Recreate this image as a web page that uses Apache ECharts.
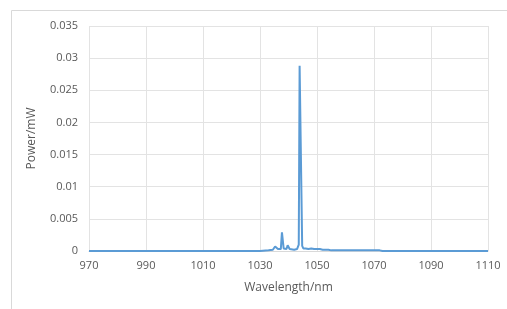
<!DOCTYPE html>
<html>
<head>
<meta charset="utf-8">
<script src="https://cdn.jsdelivr.net/npm/echarts@6/dist/echarts.min.js"></script>
<style>
html,body{margin:0;padding:0;background:#fff;}
#chart{width:507px;height:309px;}
</style>
</head>
<body>
<div id="chart"></div>
<script>
// spectrum
var wavelength = [970, 1000, 1030, 1033, 1034.5, 1035.3, 1035.8, 1036.3, 1036.8, 1037.3, 1037.7, 1038.0, 1038.3, 1038.7,
  1039.3, 1039.7, 1040.0, 1040.4, 1041, 1042, 1043, 1043.6, 1043.9, 1044.2, 1044.5, 1044.8, 1045.2, 1046, 1047, 1048,
  1049, 1050, 1051, 1052, 1053, 1054, 1055, 1060, 1065, 1070, 1072, 1073, 1080, 1110];
var power = [0, 0, 0, 0.0001, 0.0002, 0.0007, 0.0008, 0.0003, 0.0002, 0.0003, 0.0029, 0.0029, 0.0004, 0.0002,
  0.0003, 0.0009, 0.0008, 0.0003, 0.0002, 0.0002, 0.0003, 0.0010, 0.0288, 0.0290, 0.0286, 0.0008, 0.0004, 0.0004, 0.0003, 0.0004,
  0.0003, 0.0003, 0.0003, 0.0002, 0.0002, 0.0002, 0.0001, 0.0001, 0.0001, 0.0001, 0.0001, 0, 0, 0];
var xTicks = [970, 1110, 20];
var yTicks = [0, 0.035, 0.005];

var pts = [];
for (var i = 0; i < wavelength.length; i++) {
  pts.push([wavelength[i], power[i]]);
}

var myChart = echarts.init(document.getElementById('chart'));
var txt = '#595959';
var option = {
  animation: false,
  textStyle: { fontFamily: 'Open Sans' },
  grid: { left: 89, right: 19, top: 26, bottom: 58 },
  graphic: [
    { type: 'line', shape: { x1: 11.5, y1: 10.5, x2: 507, y2: 10.5 }, style: { stroke: '#d9d9d9', lineWidth: 1 } },
    { type: 'line', shape: { x1: 11.5, y1: 10.5, x2: 11.5, y2: 309 }, style: { stroke: '#d9d9d9', lineWidth: 1 } }
  ],
  xAxis: {
    type: 'value',
    min: xTicks[0], max: xTicks[1], interval: xTicks[2],
    name: 'Wavelength/nm', nameLocation: 'middle', nameGap: 31,
    nameTextStyle: { color: txt, fontSize: 12 },
    axisLine: { show: true, lineStyle: { color: '#d9d9d9' } },
    axisTick: { show: false },
    axisLabel: { color: txt, fontSize: 11, margin: 9, formatter: function (v) { return String(v); } },
    splitLine: { show: true, lineStyle: { color: '#e3e3e3' } }
  },
  yAxis: {
    type: 'value',
    min: yTicks[0], max: yTicks[1], interval: yTicks[2],
    name: 'Power/mW', nameLocation: 'middle', nameGap: 51,
    nameTextStyle: { color: txt, fontSize: 12 },
    axisLine: { show: false },
    axisTick: { show: false },
    axisLabel: { color: txt, fontSize: 11, margin: 11, formatter: function (v) { return String(v); } },
    splitLine: { show: true, lineStyle: { color: '#e3e3e3' } }
  },
  series: [{
    type: 'line',
    data: pts,
    showSymbol: false,
    lineStyle: { color: '#5b9bd5', width: 2 },
    itemStyle: { color: '#5b9bd5' }
  }]
};
myChart.setOption(option);
</script>
</body>
</html>
